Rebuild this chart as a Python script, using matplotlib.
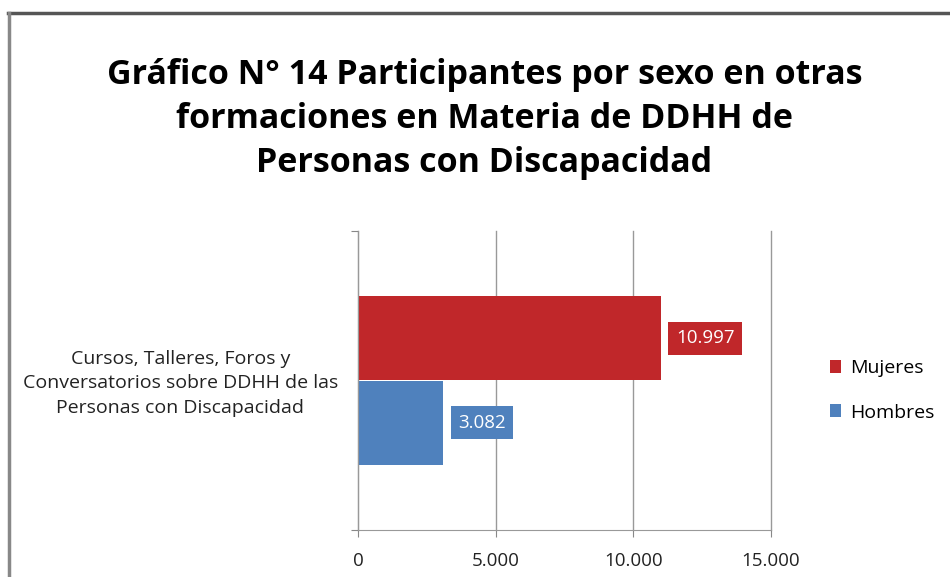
import matplotlib.pyplot as plt
from matplotlib.lines import Line2D

title = "Gráfico N° 14 Participantes por sexo en otras\nformaciones en Materia de DDHH de\nPersonas con Discapacidad"
category = "Cursos, Talleres, Foros y\nConversatorios sobre DDHH de las\nPersonas con Discapacidad"
series = ["Mujeres", "Hombres"]
values = [10997, 3082]
colors = ["#C0272A", "#4F81BD"]
xticks = [0, 5000, 10000, 15000]


def fmt(v):
    return "{:,}".format(v).replace(",", ".")


plt.rcParams["font.family"] = ["Open Sans", "DejaVu Sans"]

fig = plt.figure(figsize=(9.5, 5.77), dpi=100)
ax = fig.add_axes([0.3768, 0.0815, 0.4347, 0.518])

ypos = [0.142, -0.142]
for name, v, c, y in zip(series, values, colors, ypos):
    ax.barh(y, v, height=0.283, color=c, label=name)
    ax.annotate(
        fmt(v),
        xy=(v, y),
        xytext=(11, 0),
        textcoords="offset points",
        ha="left",
        va="center",
        fontsize=13.5,
        color="white",
        bbox=dict(boxstyle="square,pad=0.4", facecolor=c, edgecolor="none"),
    )

ax.set_xlim(0, 15000)
ax.set_ylim(-0.5, 0.5)
ax.set_xticks(xticks)
ax.set_xticklabels([fmt(t) for t in xticks], fontsize=13.5, color="#222222")
ax.tick_params(axis="x", length=5, color="#888888", pad=11)
ax.set_yticks([-0.5, 0.5])
ax.set_yticklabels(["", ""])
ax.tick_params(axis="y", length=5, color="#888888")
ax.grid(axis="x", color="#999999", lw=1)
for gl in ax.get_xgridlines():
    gl.set_clip_on(False)
ax.set_axisbelow(True)
for s in ["top", "right"]:
    ax.spines[s].set_visible(False)
for s in ["left", "bottom"]:
    ax.spines[s].set_color("#999999")

fig.text(0.19, 0.336, category, ha="center", va="center", fontsize=14,
         color="#222222", linespacing=1.47)

fig.suptitle(title, x=0.51, y=0.900, fontsize=24.5, fontweight="bold",
             va="top", linespacing=1.4)

ax.legend(loc="center left", bbox_to_anchor=(1.1, 0.467), frameon=False,
          fontsize=14, handlelength=0.6, handleheight=0.6,
          handletextpad=0.45, labelspacing=1.35)

fig.add_artist(Line2D([0.008, 1.0], [0.978, 0.978], color="#555555", lw=2.5,
                      transform=fig.transFigure))
fig.add_artist(Line2D([0.009, 0.009], [0.0, 0.978], color="#888888", lw=2.5,
                      transform=fig.transFigure))

fig.savefig("out.png", dpi=100)
